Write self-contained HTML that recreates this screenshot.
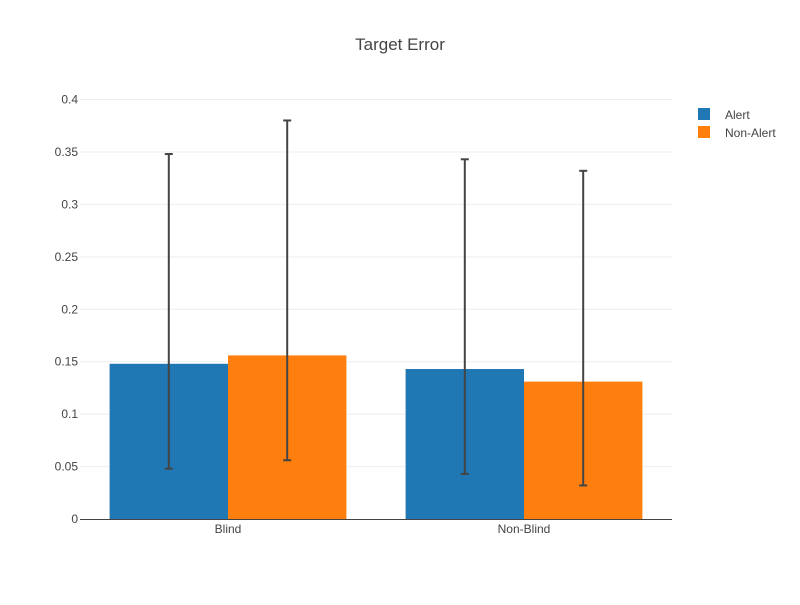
<!DOCTYPE html>
<html><head><meta charset="utf-8"><style>
body{margin:0;background:#fff;font-family:"Liberation Sans",sans-serif}
</style></head><body>
<svg id="chart" width="800" height="600" xmlns="http://www.w3.org/2000/svg" font-family="Liberation Sans, sans-serif">
<rect width="800" height="600" fill="#fff"/>
<text x="400" y="50" text-anchor="middle" font-size="17" fill="#444">Target Error</text>
<g id="grid"></g><g id="bars"></g><g id="errs"></g><g id="axes"></g>
<g>
<g><rect x="698" y="108" width="12" height="12" fill="#1f77b4"/><text x="725" y="119" font-size="12" fill="#444">Alert</text></g>
<g><rect x="698" y="126" width="12" height="12" fill="#ff7f0e"/><text x="725" y="137" font-size="12" fill="#444">Non-Alert</text></g>
</g>
</svg>
<script>
const categories=["Blind","Non-Blind"];
const seriesNames=["Alert","Non-Alert"];
const alertValues=[0.148,0.143];
const nonAlertValues=[0.156,0.131];
const alertUpper=[0.348,0.343];
const alertLower=[0.048,0.043];
const nonAlertUpper=[0.380,0.332];
const nonAlertLower=[0.056,0.032];
const yTicks=[0,0.05,0.1,0.15,0.2,0.25,0.3,0.35,0.4];
const colors=["#1f77b4","#ff7f0e"];
const NS="http://www.w3.org/2000/svg";
const X0=80,X1=672,Y0=519,Y1=99.5,YMAX=0.4;
const y=v=>Y0-(v/YMAX)*(Y0-Y1);
const band=(X1-X0)/categories.length;
const x=i=>X0+band*(i+0.5);
function mk(p,t,a){const e=document.createElementNS(NS,t);for(const k in a)e.setAttribute(k,a[k]);p.appendChild(e);return e;}
const grid=document.getElementById('grid'),bars=document.getElementById('bars'),errs=document.getElementById('errs'),axes=document.getElementById('axes');
yTicks.forEach(t=>{
 if(t>0){const l=mk(grid,'line',{x1:X0,x2:X1,y1:y(t),y2:y(t),stroke:'#eee','stroke-width':1});
 
 }
 const tx=mk(axes,'text',{x:X0-2,y:y(t)+4,'text-anchor':'end','font-size':12,fill:'#444'});
 tx.textContent=String(t);
 
 
});
const vals=[alertValues,nonAlertValues],ups=[alertUpper,nonAlertUpper],lows=[alertLower,nonAlertLower];
const bw=band*0.8/2;
categories.forEach((c,i)=>{
 vals.forEach((s,j)=>{
  const bx=x(i)-band*0.4+bw*j;
  const r=mk(bars,'rect',{x:bx,y:y(s[i]),width:bw,height:Y0-y(s[i]),fill:colors[j]});
  
  
  const cx=bx+bw/2,top=y(ups[j][i]),bot=y(lows[j][i]);
  const g=mk(errs,'g',{stroke:'#444','stroke-width':2});
  
  
  mk(g,'line',{x1:cx,x2:cx,y1:top,y2:bot});
  mk(g,'line',{x1:cx-4,x2:cx+4,y1:top,y2:top});
  mk(g,'line',{x1:cx-4,x2:cx+4,y1:bot,y2:bot});
 });
 const tx=mk(axes,'text',{x:x(i),y:Y0+14,'text-anchor':'middle','font-size':12,fill:'#444'});
 tx.textContent=c;
 
 
});
const ax=mk(axes,'line',{x1:X0,x2:X1,y1:Y0+0.5,y2:Y0+0.5,stroke:'#444','stroke-width':1});


</script>
</body></html>
